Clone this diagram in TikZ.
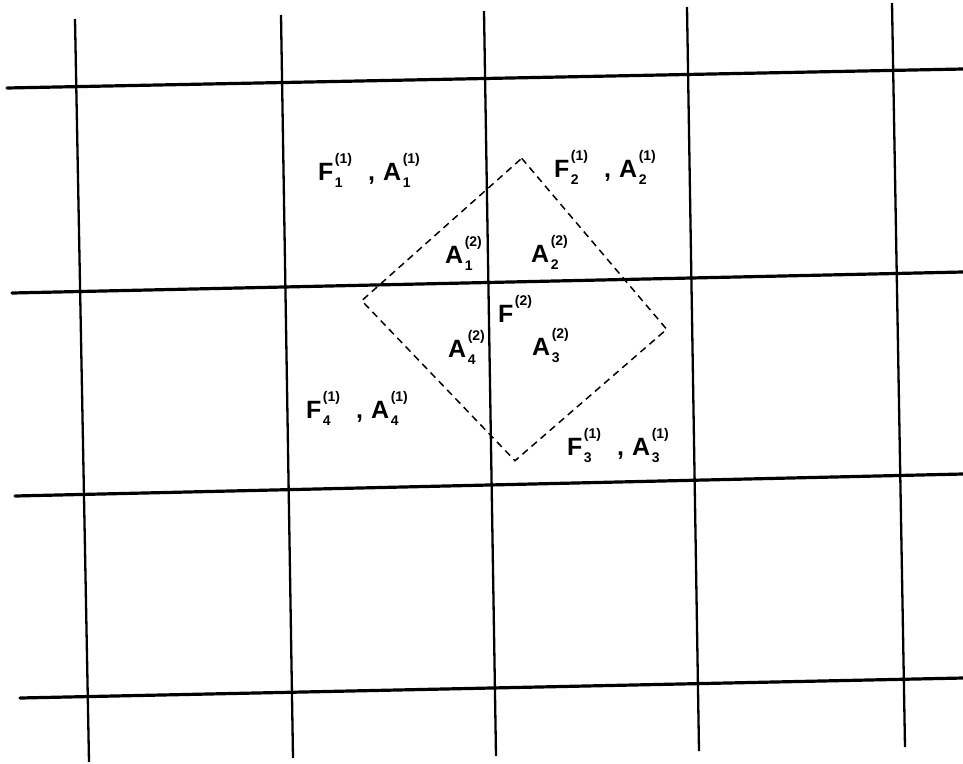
\documentclass[tikz,border=0pt]{standalone}
\usepackage{fontspec}
\setmainfont{Liberation Sans}
\usepackage{tikz}
\tikzset{
  gridh/.style={line width=3.2pt, line cap=round},
  gridv/.style={line width=2.3pt},
  dashbox/.style={line width=1.5pt, dash pattern=on 7pt off 5pt},
  lab/.style={font=\fontsize{25}{25}\selectfont\bfseries, inner sep=0pt,
              anchor=base west},
}
\newcommand{\idxfont}{\fontsize{14}{14}\selectfont}
% letter with sub- and superscript index
\newcommand{\ssc}[3]{#1\kern1.5pt\rlap{\raisebox{17pt}{\idxfont(#3)}}\raisebox{-7pt}{\idxfont#2}}
% a pair  F_k^(1) , A_k^(1)
\newcommand{\fapair}[1]{\makebox[50pt][l]{\ssc{F}{#1}{1}}\makebox[15pt][l]{,}\ssc{A}{#1}{1}}

\begin{document}
\begin{tikzpicture}[x=1pt, y=-1pt]
\useasboundingbox (0,0) rectangle (963,763);

% ---------- grid ---------------------------------------------------------
\foreach \xt/\yt/\xb/\yb in {75/19/89/762, 281/15/293/758, 484/11/496/756,
                             687/7/699/751, 892/3/905/747}{
  \draw[gridv] (\xt,\yt) -- (\xb,\yb);}
\foreach \xl/\yl/\yr in {7/88/69, 12/293/272, 15/496/474, 20/698/678}{
  \draw[gridh] (\xl,\yl) -- (963,\yr);}

% ---------- the second level cell ----------------------------------------
\coordinate (dtop) at (521.7,158.3);
\coordinate (dright) at (666.7,329.3);
\coordinate (dbot) at (515,460.7);
\coordinate (dleft) at (361.7,300.7);
\draw[dashbox] (dtop) -- (dright) -- (dbot) -- (dleft) -- cycle;

% ---------- first level labels -------------------------------------------
\node[lab] (p1) at (318,180) {\fapair{1}};
\node[lab] (p2) at (554,177) {\fapair{2}};
\node[lab] (p3) at (567,455) {\fapair{3}};
\node[lab] (p4) at (306,418) {\fapair{4}};

% ---------- second level labels ------------------------------------------
\node[lab] (a1) at (445,263) {\ssc{A}{1}{2}};
\node[lab] (a2) at (531,262) {\ssc{A}{2}{2}};
\node[lab] (a3) at (532,355) {\ssc{A}{3}{2}};
\node[lab] (a4) at (448,357) {\ssc{A}{4}{2}};
\node[lab] (f2) at (498,322) {\ssc{F}{}{2}};
\end{tikzpicture}
\end{document}
